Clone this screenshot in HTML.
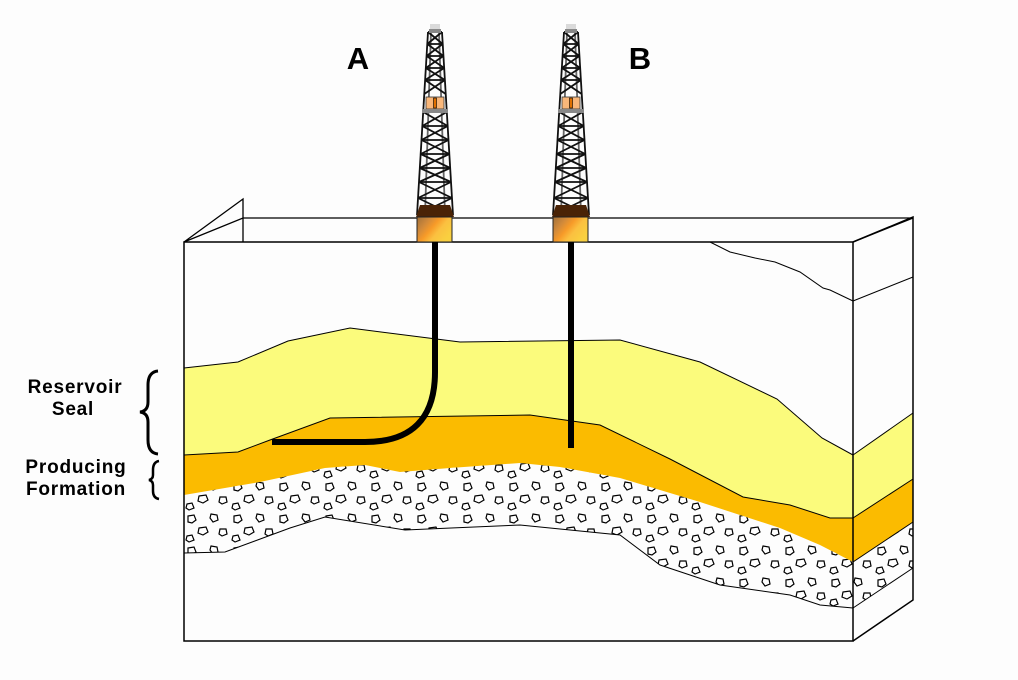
<!DOCTYPE html>
<html><head><meta charset="utf-8"><style>
html,body{margin:0;padding:0;background:#fdfdfd;}
svg{display:block;}
text{font-family:"Liberation Sans",sans-serif;font-weight:bold;fill:#000;}
</style></head><body>
<svg width="1018" height="680" viewBox="0 0 1018 680" xmlns="http://www.w3.org/2000/svg">
<defs>
<pattern id="grav" width="46" height="32" patternUnits="userSpaceOnUse">
<g fill="#fff" stroke="#000" stroke-width="1.2">
<polygon points="4,4 10,3 12,8 8,11 4,10"/>
<polygon points="27,2 33,3 34,8 29,10 26,6"/>
<polygon points="15,16 22,15 24,20 19,23 14,21"/>
<polygon points="36,17 42,17 43,22 38,24 35,22"/>
<polygon points="3,24 8,23 10,28 5,30 2,28"/>
</g>
</pattern>
<symbol id="derrick" viewBox="-25 0 50 215" width="50" height="215" overflow="visible">
<g stroke="#111" stroke-width="1.8" fill="none">
<line x1="-7" y1="30" x2="-18" y2="213"/><line x1="7" y1="30" x2="18" y2="213"/>
<line x1="-4" y1="30" x2="-10" y2="213" stroke="#666"/><line x1="4" y1="30" x2="10" y2="213" stroke="#666"/>
<path d="M-7,30H7 M-7.7,42H7.7 M-8.4,54H8.4 M-9.2,66H9.2 M-9.9,78H9.9 M-11.8,110H11.8 M-12.7,124H12.7 M-13.5,138H13.5 M-14.3,152H14.3 M-15.2,166H15.2 M-16,180H16 M-17,196H17"/>
<path d="M-7,30L7.7,42M7,30L-7.7,42 M-7.7,42L8.4,54M7.7,42L-8.4,54 M-8.4,54L9.2,66M8.4,54L-9.2,66 M-9.2,66L9.9,78M9.2,66L-9.9,78 M-9.9,78L10.7,92M9.9,78L-10.7,92 M-11.8,110L12.7,124M11.8,110L-12.7,124 M-12.7,124L13.5,138M12.7,124L-13.5,138 M-13.5,138L14.3,152M13.5,138L-14.3,152 M-14.3,152L15.2,166M14.3,152L-15.2,166 M-15.2,166L16,180M15.2,166L-16,180 M-16,180L17,196M16,180L-17,196 M-17,196L18,213M17,196L-18,213"/>
</g>
<path d="M-4,22V28M-2,22V28M0,22V28M2,22V28M4,22V28" stroke="#999" stroke-width="0.7"/>
<rect x="-6" y="27" width="12" height="4" fill="#888"/>
<rect x="-9" y="95" width="18" height="12" fill="#f9b77a" stroke="#333" stroke-width="0.8"/>
<rect x="-1.5" y="96" width="3" height="10" fill="#e07000" stroke="#000" stroke-width="0.6"/>
<rect x="-13" y="107" width="26" height="4" fill="#888"/>
<path d="M-15,203H15L19,215H-19Z" fill="#4a2306"/>
</symbol>
<linearGradient id="base" x1="0" y1="0" x2="1" y2="0.6">
<stop offset="0" stop-color="#a0703a"/><stop offset="0.3" stop-color="#d28a3a"/><stop offset="0.5" stop-color="#f79a28"/><stop offset="0.7" stop-color="#fbc040"/><stop offset="1" stop-color="#f9d040"/>
</linearGradient>
</defs>

<path d="M184,242L243,199V242M184,242L243,218H913L853,242" fill="none" stroke="#000" stroke-width="1.3"/>
<rect x="184" y="242" width="669" height="399" fill="#fdfdfd"/>
<polygon points="184,368 238,362 288,341 350,328 460,342 620,340 700,362 777,399 822,438 853,455 853,518 830,518 790,505 743,497 670,459 600,425 530,415 330,418 270,440 238,452 184,455" fill="#fbfb7c"/>
<polygon points="184,455 238,452 270,440 330,418 530,415 600,425 670,459 743,497 790,505 830,518 853,518 853,562 820,545 780,528 700,502 620,478 560,467 520,463 450,468 400,472 365,465 325,468 260,482 184,495" fill="#fbbb00"/>
<polygon points="184,495 260,482 325,468 365,465 400,472 450,468 520,463 560,467 620,478 700,502 780,528 820,545 853,562 853,608 820,605 790,595 720,585 660,565 620,535 520,525 405,530 325,517 290,528 225,552 184,553" fill="url(#grav)"/>
<polygon points="853,455 913,413 913,479 853,518" fill="#fbfb7c"/>
<polygon points="853,518 913,479 913,522 853,562" fill="#fbbb00"/>
<polygon points="853,562 913,522 913,568 853,608" fill="url(#grav)"/>
<g fill="none" stroke="#000" stroke-width="1">
<polyline points="184,368 238,362 288,341 350,328 460,342 620,340 700,362 777,399 822,438 853,455"/>
<polyline points="184,455 238,452 270,440 330,418 530,415 600,425 670,459 743,497 790,505 830,518 853,518"/>
<polyline points="184,553 225,552 290,528 325,517 405,530 520,525 620,535 660,565 720,585 790,595 820,605 853,608"/>
<polyline points="710,242 730,252 755,258 775,262 800,272 823,288 830,290 853,301"/>
<path d="M853,301L913,277M853,455L913,413M853,518L913,479M853,562L913,522M853,608L913,568"/>
</g>
<g fill="none" stroke="#000" stroke-width="1.5">
<rect x="184" y="242" width="669" height="399"/>
<path d="M853,242L913,217V600L853,641"/>
</g>

<use href="#derrick" x="410" y="2"/>
<use href="#derrick" x="546" y="2"/>
<rect x="417" y="217" width="35" height="25" fill="url(#base)" stroke="#222" stroke-width="1"/>
<rect x="553" y="217" width="35" height="25" fill="url(#base)" stroke="#222" stroke-width="1"/>

<path d="M435,242V372Q435,442 365,442H272" fill="none" stroke="#000" stroke-width="6"/>
<path d="M571,242V448" fill="none" stroke="#000" stroke-width="6"/>

<text x="358" y="69" font-size="31" text-anchor="middle">A</text>
<text x="640" y="69" font-size="31" text-anchor="middle">B</text>
<g font-size="19" letter-spacing="0.8">
<text x="75" y="393" text-anchor="middle">Reservoir</text>
<text x="73" y="415" text-anchor="middle">Seal</text>
<text x="76" y="473" text-anchor="middle">Producing</text>
<text x="76" y="495" text-anchor="middle">Formation</text>
</g>
<path d="M158,371 Q148,372 148,385 V402 Q148,411 140,412 Q148,413 148,422 V440 Q148,453 158,454" fill="none" stroke="#000" stroke-width="3"/>
<path d="M159,461 Q153,462 153,470 V475 Q153,479 149,480 Q153,481 153,485 V491 Q153,498 159,499" fill="none" stroke="#000" stroke-width="2.5"/>
</svg>
</body></html>
